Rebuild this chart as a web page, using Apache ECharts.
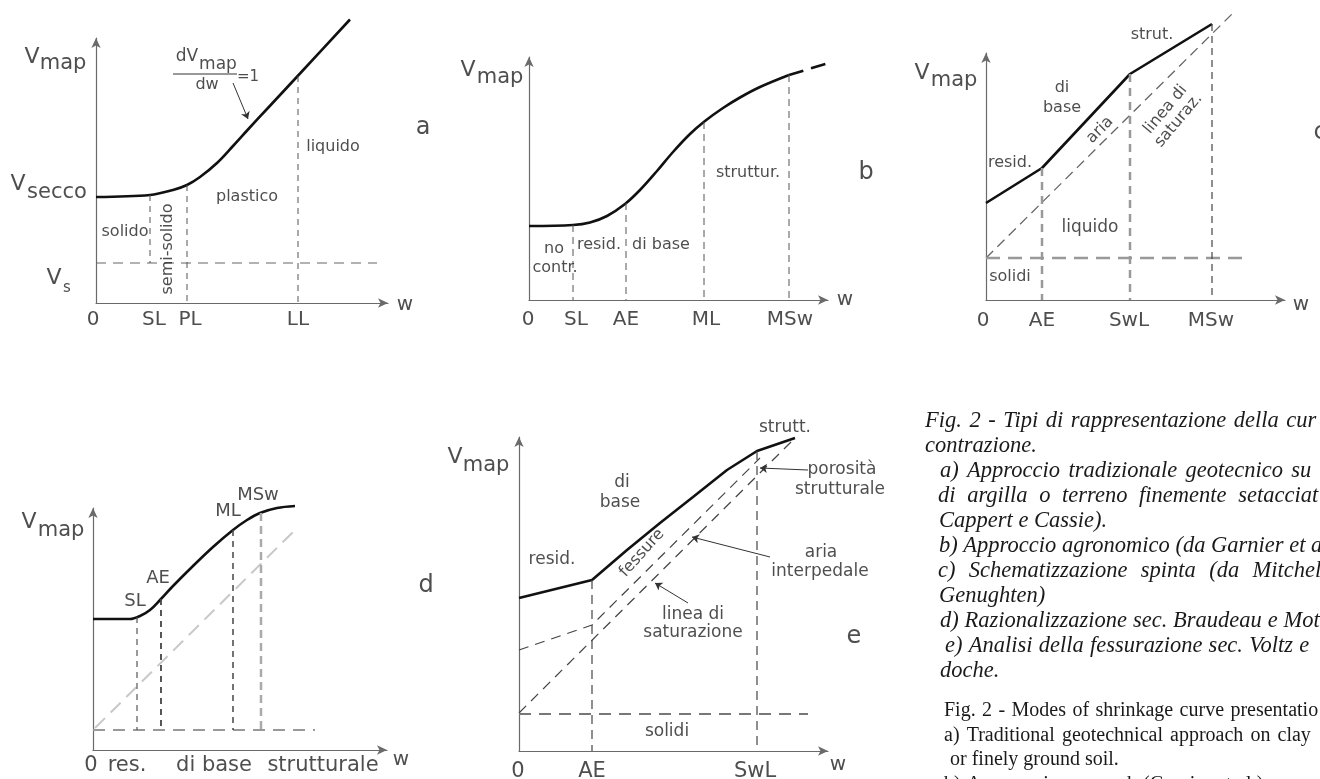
<!DOCTYPE html>
<html><head><meta charset="utf-8">
<script src="https://cdn.jsdelivr.net/npm/echarts@6/dist/echarts.min.js"></script>
<style>html,body{margin:0;padding:0;background:#fff}#c{width:1320px;height:779px}</style>
</head><body><div id="c"></div>
<script>
// ---------------- DATA (local units: 1 unit = 1 px from each panel origin) ----------------
// Panel a
const aCurve = [[0,106],[54,108],[77,113],[91,118],[104,126],[121,140],[137,157],[152,173.5],[171,194],[204,229.5],[254,283.5]];
const aVsLine = [[0,40],[281,40]];
const aVerticals = [[54,108,40],[91,118,0],[202,227,0]];
const aTickNames = ['0','SL','PL','LL'];
const aTickX = [-3,58,94,202];
// Panel b
const bCurve = [[0,74],[44,75],[61,77.5],[78,84],[96,96],[111,110],[128,129],[144,148],[161,166],[176,179],[194,192],[211,202.5],[231,213],[260,225]];
const bExtension = [[260,225],[339,249]];
const bVerticals = [[44,75,0],[97,97,0],[175,178,0],[260,225,0]];
const bTickNames = ['0','SL','AE','ML','MSw'];
const bTickX = [-1,47,97,177,261];
// Panel c
const cCurve = [[0,97],[56,132],[144,226],[226,276]];
const cSaturation = [[0,42],[246,286]];
const cSolids = [[0,42],[257,42]];
const cVerticals = [[56,132,0],[144,226,0],[226,276,0]];
const cTickNames = ['0','AE','SwL','MSw'];
const cTickX = [-3,56,143,225];
// Panel d
const dCurve = [[0,131],[37,131],[47,134],[57,140],[67,150],[80,164],[100,184],[120,203],[140,220],[154,230],[167,237],[184,242],[202,244]];
const dGrayLine = [[2,22],[200,218]];
const dSolids = [[0,20],[222,20]];
const dVerticals = [[44,133,20],[68,151,20],[140,220,20],[168,237,20]];
const dTickNames = ['0','res.','di base','strutturale'];
const dTickX = [-2,34,121,230];
// Panel e
const eCurve = [[0,153],[73,171],[108,201],[141,228],[174,254],[208,281],[238,300],[276,313]];
const eFessure = [[0,101],[73,126],[241,293]];
const eSaturation = [[0,38],[274,311]];
const eSolids = [[0,37],[289,37]];
const eVerticals = [[73,171,0],[238,300,0]];
const eTickNames = ['0','AE','SwL'];
const eTickX = [-1,73,236];

// Caption lines
const capItalic = [
 ['Fig. 2 - Tipi di rappresentazione della cur', 925, 423, 1.9],
 ['contrazione.', 925, 448, 0],
 ['a) Approccio tradizionale geotecnico su', 940, 473, 2.75],
 ['di argilla o terreno finemente setacciat', 938, 498, 6],
 ['Cappert e Cassie).', 939, 523, 0],
 ['b) Approccio agronomico (da Garnier et a', 939, 548, 0],
 ['c) Schematizzazione spinta (da Mitchel', 938, 573, 7.7],
 ['Genughten)', 939, 598, 0],
 ['d) Razionalizzazione sec. Braudeau e Mot', 940, 623, 0.2],
 ['e) Analisi della fessurazione sec. Voltz e', 945, 648, 0.6],
 ['doche.', 940, 673, 0]
];
const capRegular = [
 ['Fig. 2 - Modes of shrinkage curve presentatio', 944, 713, 1.4],
 ['a) Traditional geotechnical approach on clay', 944, 738, 2.1],
 ['or finely ground soil.', 950, 762, 0],
 ['b) Agronomic approach (Garnier et al.)', 944, 787, 1]
];

// ---------------- LAYOUT ----------------
const grids = [
 {left:96, top:38, width:292, height:265},
 {left:529, top:57, width:299, height:243},
 {left:986, top:53, width:299, height:247},
 {left:93, top:508, width:294, height:242},
 {left:519, top:437, width:309, height:314}
];
const FONT = 'DejaVu Sans';
const series = [];
function L(g, data, color, width, type, extra){
  series.push(Object.assign({type:'line', xAxisIndex:g, yAxisIndex:g, data:data, symbol:'none', clip:false, silent:true,
    lineStyle:{color:color, width:width, type:type||'solid'}, z:2}, extra||{}));
}
function V(g, list, color, width, type){
  list.forEach(v => L(g, [[v[0],v[1]],[v[0],v[2]]], color, width, type));
}
function T(g, items){
  series.push({type:'scatter', xAxisIndex:g, yAxisIndex:g, clip:false, silent:true, symbolSize:1, z:5,
    itemStyle:{color:'rgba(0,0,0,0)'},
    data: items.map(it => ({value:[it[0],it[1]], label:{show:true, position:'inside', formatter:it[2], fontSize:it[3]||16,
      rotate:it[4]||0, color:'#222', fontFamily:FONT, lineHeight:it[5]||Math.round((it[3]||16)*1.1), textBorderWidth:0}}))});
}
function ticks(g, names, xs, y, size){ T(g, names.map((n,i)=>[xs[i], y, n, size])); }
function arrows(pairs){
  return {silent:true, animation:false, symbol:['none','arrow'], symbolSize:7, label:{show:false},
    lineStyle:{color:'#333', width:1, type:'solid'},
    data: pairs.map(p => [{coord:p[0], lineStyle:{curveness:p[2]||0}},{coord:p[1]}])};
}
const CURVE = '#111';

// Panel a
L(0, aCurve, CURVE, 2.6, 'solid', {smooth:0.35, markLine: arrows([[[137,220],[152,184]]])});
L(0, aVsLine, '#666', 1.1, [10,7]);
V(0, aVerticals, '#555', 1, [6,5]);
L(0, [[77,229],[141,229]], '#333', 1);
T(0, [[-64,246,'V',22],[-33,239,'map',21],[-78,119,'V',22],[-39,110,'secco',21],[-42,25,'V',22],[-29,15,'s',15],
      [29,71,'solido',16],[72,54,'semi-solido',16,90],[151,106,'plastico',16],[237,156,'liquido',16],[327,175,'a',24],
      [91,246,'dV',17],[122,238,'map',17],[111,218,'dw',16],[152,226,'=1',15],[309,-2,'w',20]]);
ticks(0, aTickNames, aTickX, -17, 20);

// Panel b
L(1, bCurve, CURVE, 2.6, 'solid', {smooth:0.35});
L(1, bExtension, CURVE, 2.6, [15,8]);
V(1, bVerticals, '#555', 1, [7,5]);
T(1, [[-61,230,'V',22],[-29,222,'map',21],[25,51,'no',16],[26,32,'contr.',16],[70,55,'resid.',16],[132,55,'di base',16],
      [219,127,'struttur.',16],[337,127,'b',24],[316,0,'w',20]]);
ticks(1, bTickNames, bTickX, -20, 20);

// Panel c
L(2, cCurve, CURVE, 2.6);
L(2, cSaturation, '#666', 1.3, [10,6]);
L(2, cSolids, '#999', 2.5, [14,8]);
L(2, [[cVerticals[0][0],cVerticals[0][1]],[cVerticals[0][0],cVerticals[0][2]]], '#999', 2.5, [8,6]);
L(2, [[cVerticals[1][0],cVerticals[1][1]],[cVerticals[1][0],cVerticals[1][2]]], '#999', 2.5, [8,6]);
L(2, [[cVerticals[2][0],cVerticals[2][1]],[cVerticals[2][0],cVerticals[2][2]]], '#444', 1.2, [7,5]);
T(2, [[-64,227,'V',22],[-32,219,'map',21],[76,212,'di',16],[76,192,'base',16],[166,265,'strut.',16],[24,137,'resid.',16],
      [114,170,'aria',16,45],[186,185,'linea di\nsaturaz.',16,50,17],[104,72,'liquido',17],[24,23,'solidi',16],
      [334,167,'c',24],[315,-5,'w',20]]);
ticks(2, cTickNames, cTickX, -21, 20);

// Panel d
L(3, dCurve, CURVE, 2.6, 'solid', {smooth:0.35});
L(3, dGrayLine, '#c8c8c8', 2, [14,8]);
L(3, dSolids, '#999', 2, [12,8]);
L(3, [[dVerticals[0][0],dVerticals[0][1]],[dVerticals[0][0],dVerticals[0][2]]], '#555', 1.2, [6,5]);
L(3, [[dVerticals[1][0],dVerticals[1][1]],[dVerticals[1][0],dVerticals[1][2]]], '#444', 1.8, [6,5]);
L(3, [[dVerticals[2][0],dVerticals[2][1]],[dVerticals[2][0],dVerticals[2][2]]], '#444', 1.5, [6,5]);
L(3, [[dVerticals[3][0],dVerticals[3][1]],[dVerticals[3][0],dVerticals[3][2]]], '#aaa', 2.5, [8,5]);
T(3, [[-64,228,'V',22],[-32,219,'map',21],[42,149,'SL',18],[65,172,'AE',18],[135,239,'ML',18],[165,255,'MSw',18],
      [333,164,'d',24],[308,-10,'w',20]]);
ticks(3, dTickNames, dTickX, -16, 21);

// Panel e
L(4, eCurve, CURVE, 2.6, 'solid', {markLine: arrows([[[289,281],[241,283],0.35],[[251,194],[173,214]],[[169,148],[136,168]]])});
L(4, eFessure, '#444', 1.2, [10,7]);
L(4, eSaturation, '#444', 1.2, [10,7]);
L(4, eSolids, '#777', 1.8, [12,8]);
V(4, eVerticals, '#444', 1.2, [9,6]);
T(4, [[-64,294,'V',22],[-33,285,'map',21],[103,268,'di',17],[101,248,'base',17],[33,191,'resid.',17],
      [123,198,'fessure',16,48],[174,136,'linea di',17],[174,118,'saturazione',17],[148,19,'solidi',17],
      [266,323,'strutt.',17],[323,281,'porosità',17],[321,261,'strutturale',17],[302,198,'aria',17],
      [301,179,'interpedale',17],[335,114,'e',24],[319,-14,'w',20]]);
ticks(4, eTickNames, eTickX, -21, 21);

// Axes
function axis(i, max){
  return {gridIndex:i, type:'value', min:0, max:max,
    axisLine:{show:true, onZero:false, symbol:['none','arrow'], symbolSize:[7,10], lineStyle:{color:'#6a6a6a', width:1.2}},
    axisTick:{show:false}, axisLabel:{show:false}, splitLine:{show:false}};
}
const xAxes = grids.map((g,i)=>axis(i, g.width));
const yAxes = grids.map((g,i)=>axis(i, g.height));

// Caption as graphic text (word by word for justified spacing)
const meas = document.createElement('canvas').getContext('2d');
function capElems(lines, font){
  meas.font = font;
  const sp0 = meas.measureText(' ').width;
  const els = [];
  lines.forEach(l => {
    let x = l[1];
    l[0].split(' ').forEach(w => {
      els.push({type:'text', x:x, y:l[2]-2, silent:true,
        style:{text:w, font:font, fill:'#1a1a1a', textAlign:'left', textVerticalAlign:'middle'}});
      x += meas.measureText(w).width + sp0 + l[3];
    });
  });
  return els;
}
const graphics = capElems(capItalic, 'italic 22.5px "Liberation Serif"')
  .concat(capElems(capRegular, '20px "Liberation Serif"'));

const chart = echarts.init(document.getElementById('c'), null, {renderer:'canvas'});
chart.setOption({
  backgroundColor:'#fff', animation:false,
  grid: grids, xAxis: xAxes, yAxis: yAxes,
  series: series,
  graphic: graphics
});
</script></body></html>
